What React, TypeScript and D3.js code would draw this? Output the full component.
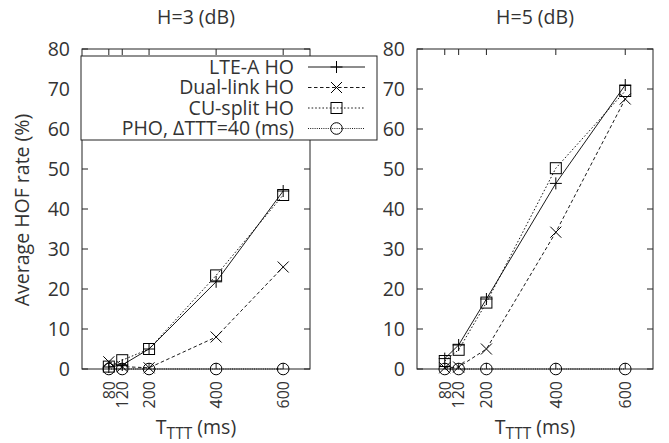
import React from "react";
import * as d3 from "d3";

const xValues = [80, 120, 200, 400, 600];
const xTickLabels = ["80", "120", "200", "400", "600"];
const yTicks = [0, 10, 20, 30, 40, 50, 60, 70, 80];

const seriesNames = ["LTE-A HO", "Dual-link HO", "CU-split HO", "PHO, \u0394TTT=40 (ms)"];

const h3Lte = [0.5, 1.0, 5.0, 21.8, 44.5];
const h3Dual = [1.8, 0.6, 0.3, 8.0, 25.5];
const h3Cu = [0.6, 2.2, 5.0, 23.4, 43.5];
const h3Pho = [0, 0, 0, 0, 0];

const h5Lte = [2.6, 6.0, 17.5, 46.4, 71.0];
const h5Dual = [0.3, 0.5, 5.0, 34.2, 67.5];
const h5Cu = [2.0, 4.8, 16.6, 50.2, 69.5];
const h5Pho = [0, 0, 0, 0, 0];

const panelTitles = ["H=3 (dB)", "H=5 (dB)"];

const FONT = "'Open Sans', sans-serif";
const TXT = "#333";
const FS = 19.5;
const markers = ["plus", "cross", "square", "circle"];
const dashes = [null, "3.5,2.5", "1.6,2", "1,1.2"];

function Marker({ type, x, y }: { type: string; x: number; y: number }) {
  const s = 6;
  if (type === "plus")
    return <path d={`M${x - s},${y}H${x + s}M${x},${y - s}V${y + s}`} stroke="#000" fill="none" strokeWidth={1} />;
  if (type === "cross")
    return <path d={`M${x - 5.5},${y - 5.5}L${x + 5.5},${y + 5.5}M${x - 5.5},${y + 5.5}L${x + 5.5},${y - 5.5}`} stroke="#000" fill="none" strokeWidth={1} />;
  if (type === "square")
    return <rect x={x - 5.5} y={y - 5.5} width={11} height={11} stroke="#000" fill="none" strokeWidth={1} />;
  return <circle cx={x} cy={y} r={5.8} stroke="#000" fill="none" strokeWidth={1} />;
}

function Panel({ x0, x1, title, series }: { x0: number; x1: number; title: string; series: number[][] }) {
  const y0 = 49, y1 = 369;
  const xs = d3.scaleLinear().domain([0, 680]).range([x0, x1]);
  const ys = d3.scaleLinear().domain([0, 80]).range([y1, y0]);
  const line = d3.line<number>().x((_, i) => xs(xValues[i])).y((d) => ys(d));
  const cx = (x0 + x1) / 2;
  const tl = 6;
  return (
    <g>
      <text x={cx} y={24} textAnchor="middle" fontSize={FS} fill={TXT} fontFamily={FONT}>{title}</text>
      {yTicks.map((t) => (
        <g key={"y" + t}>
          <line x1={x0} x2={x0 + tl} y1={ys(t)} y2={ys(t)} stroke="#222" />
          <line x1={x1} x2={x1 - tl} y1={ys(t)} y2={ys(t)} stroke="#222" />
          <text x={x0 - 12} y={ys(t)} dy="0.36em" textAnchor="end" fontSize={FS} fill={TXT} fontFamily={FONT}>{t}</text>
        </g>
      ))}
      {xValues.map((v, i) => (
        <g key={"x" + v}>
          <line x1={xs(v)} x2={xs(v)} y1={y1} y2={y1 - tl} stroke="#222" />
          <line x1={xs(v)} x2={xs(v)} y1={y0} y2={y0 + tl} stroke="#222" />
          <text transform={`translate(${xs(v)},${y1 + 12}) rotate(-90)`} dy="0.36em" textAnchor="end" fontSize={16} fill={TXT} fontFamily={FONT}>{xTickLabels[i]}</text>
        </g>
      ))}
      <rect x={x0} y={y0} width={x1 - x0} height={y1 - y0} fill="none" stroke="#222" strokeWidth={1} />
      {series.map((vals, si) => (
        <g key={"s" + si}>
          <path d={line(vals) || ""} fill="none" stroke="#000" strokeWidth={0.9} strokeDasharray={dashes[si] || undefined} />
          {vals.map((v, i) => (
            <Marker key={i} type={markers[si]} x={xs(xValues[i])} y={ys(v)} />
          ))}
        </g>
      ))}
      <text x={cx} y={434} textAnchor="middle" fontSize={FS} fill={TXT} fontFamily={FONT}>
        T<tspan fontSize={15.5} dy={5}>TTT</tspan><tspan dy={-5}> (ms)</tspan>
      </text>
    </g>
  );
}

export default function App() {
  const legendRows = [73.5, 94, 114.5, 135];
  return (
    <svg width={669} height={443} style={{ position: "absolute", left: 0, top: 0, background: "#fff" }}>
      <rect width={669} height={443} fill="#fff" />
      <Panel x0={82} x1={310} title={panelTitles[0]} series={[h3Lte, h3Dual, h3Cu, h3Pho]} />
      <Panel x0={417} x1={653} title={panelTitles[1]} series={[h5Lte, h5Dual, h5Cu, h5Pho]} />
      <text transform="translate(29,210) rotate(-90)" textAnchor="middle" fontSize={FS} fill={TXT} fontFamily={FONT}>Average HOF rate (%)</text>
      <g>
        <rect x={81} y={56} width={296} height={84} fill="#fff" stroke="#222" strokeWidth={1} />
        {seriesNames.map((n, i) => (
          <g key={n}>
            <text x={294} y={legendRows[i]} textAnchor="end" fontSize={FS} fill={TXT} fontFamily={FONT}>{n}</text>
            <line x1={308} x2={365} y1={legendRows[i] - 6.5} y2={legendRows[i] - 6.5} stroke="#000" strokeWidth={0.9} strokeDasharray={dashes[i] || undefined} />
            <Marker type={markers[i]} x={336.5} y={legendRows[i] - 6.5} />
          </g>
        ))}
      </g>
    </svg>
  );
}
